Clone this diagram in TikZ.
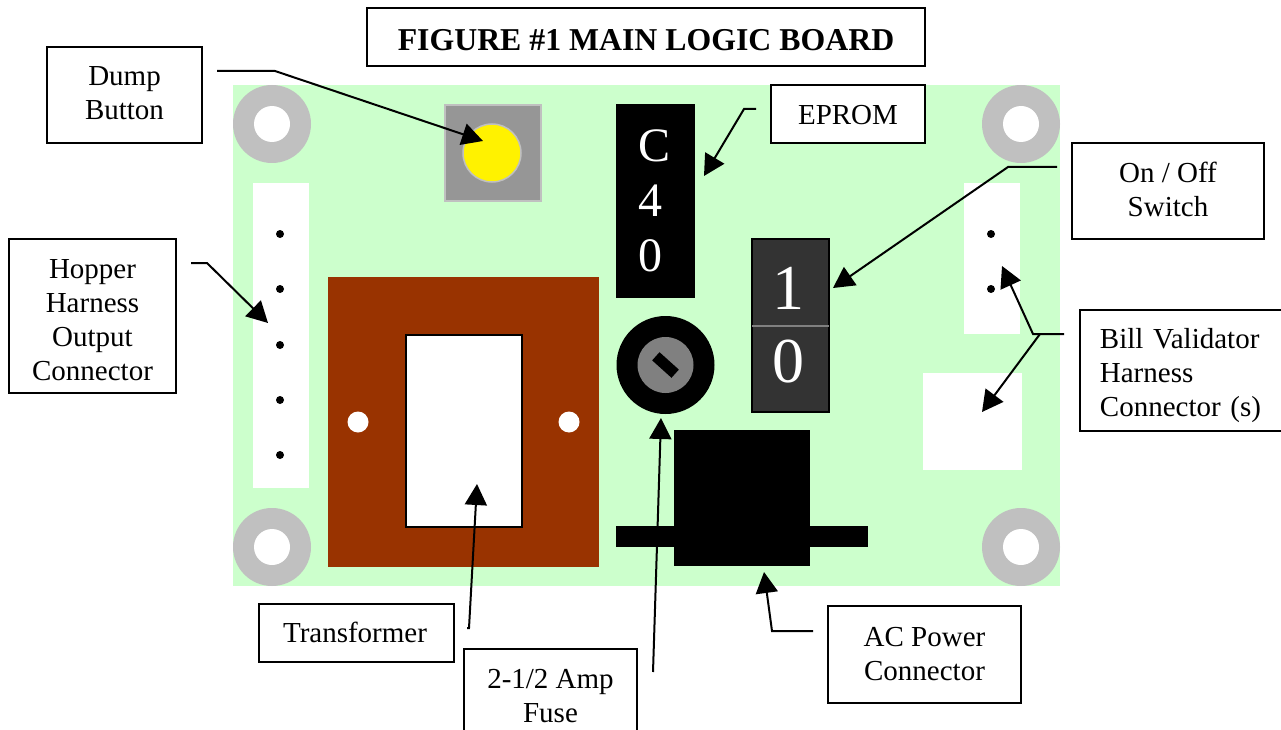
\documentclass[tikz,border=0pt]{standalone}
\usepackage{fontspec}
\setmainfont{Liberation Serif}
\usetikzlibrary{arrows.meta}
\definecolor{boardgreen}{HTML}{CCFFCC}
\definecolor{coilbrown}{HTML}{993300}
\definecolor{mountgray}{HTML}{C0C0C0}
\definecolor{dumpgray}{HTML}{969696}
\definecolor{switchgray}{HTML}{333333}
\newcommand{\dropline}[1]{\rule{0pt}{#1}}
\newcommand{\liftline}[1]{\rule[-#1]{0pt}{#1}}
\tikzset{
  labelbox/.style={draw=black,fill=white,line width=1.8pt,inner sep=0pt,align=center,font=\fontsize{29}{34}\selectfont},
  chiptext/.style={text=white,inner sep=0pt,align=center},
  leader/.style={draw=black,line width=2pt,-{Triangle[length=21pt,width=22pt]}}
}
\begin{document}
\begin{tikzpicture}[line join=miter,>=stealth,x=1pt,y=-1pt]
\useasboundingbox (0,0) rectangle (1281,730);
% board
\fill[boardgreen] (233,85) rectangle (1060,586);
\foreach \x/\y in {272/124,1021/124,272/547,1021/547}{
  \fill[mountgray] (\x,\y) circle(39);
  \fill[white] (\x,\y) circle(18);
}
% harness connectors
\fill[white] (253,183) rectangle (309,488);
\fill[white] (964,183) rectangle (1020,334);
\fill[white] (923,373) rectangle (1022,470);
\foreach \x/\y in {280/234,280/289,280/345,280/400,280/455,991/234,991/289}{\fill[black] (\x,\y) circle(4);}
% transformer
\fill[coilbrown] (328,277) rectangle (599,567);
\draw[black,fill=white,line width=1.8pt] (406,335) rectangle (522,527);
\foreach \x in {358,569}{\fill[white] (\x,422) circle(10.5);}
% dump button
\draw[mountgray,fill=dumpgray,line width=1.5pt] (445,105) rectangle (541,201);
\draw[mountgray,fill=yellow,line width=1.5pt] (492,153) circle(29);
% eprom
\fill[black] (616,104) rectangle (695,298);
\foreach \y/\l in {146/C,201/4,256/0}{\node[chiptext,anchor=west,font=\fontsize{48}{55}\selectfont] (eprom\l) at (638,\y) {\l};}
% on off switch
\draw[black,fill=switchgray,line width=1.5pt] (752,239) rectangle (829,412);
\draw[gray,line width=2pt] (752,325.5) -- (829,325.5);
\node[chiptext,font=\fontsize{64}{70}\selectfont] (switchon) at (788,288) {1};
\node[chiptext,font=\fontsize{64}{70}\selectfont] (switchoff) at (788,362) {0};
% fuse
\fill[black] (665.5,365) circle(49);
\fill[gray] (665.5,365) circle(28);
\fill[black,rotate around={-42:(665.5,365)}] (652.5,359.5) rectangle (678.5,370.5);
% ac connector
\fill[black] (674,430) rectangle (810,566);
\fill[black] (616,526) rectangle (868,547);
% labels
\node[labelbox,minimum width=558pt,minimum height=58pt,font=\fontsize{31.8}{36}\selectfont\bfseries] (title) at (646,37) {\dropline{28pt}FIGURE \#1 MAIN LOGIC BOARD};
\node[labelbox,minimum width=155pt,minimum height=96pt] (dumpbutton) at (124.5,95) {Dump\\Button\liftline{4pt}};
\node[labelbox,minimum width=154pt,minimum height=58pt] (eprom) at (848,114) {\dropline{21pt}EPROM};
\node[labelbox,minimum width=192pt,minimum height=96pt] (onoff) at (1168,191) {On / Off\\Switch\liftline{4pt}};
\node[labelbox,minimum width=206pt,minimum height=121pt,anchor=west,align=left,text width=206pt] (billvalidator) at (1079,370.5) {\dropline{30pt}\hspace*{20pt}Bill Validator\\\hspace*{20pt}Harness\\\hspace*{20pt}Connector (s)};
\node[labelbox,minimum width=167pt,minimum height=154pt] (hopper) at (92.5,316) {\dropline{27pt}Hopper\\Harness\\Output\\Connector};
\node[labelbox,minimum width=195pt,minimum height=58pt] (transformer) at (356.5,633) {\hspace*{-3pt}Transformer\liftline{2pt}};
\node[labelbox,minimum width=173pt,minimum height=100pt,anchor=north] (fuselabel) at (550.5,648) {2-1/2 Amp\\Fuse\liftline{7pt}};
\node[labelbox,minimum width=193pt,minimum height=97pt] (acpower) at (924.5,654.5) {AC Power\\Connector\liftline{2pt}};
% leader lines
\coordinate (dumpstart) at (217,71);
\coordinate (dumpbend) at (275,71);
\coordinate (dumptip) at (483,141);
\coordinate (epromstart) at (756,109);
\coordinate (eprombend) at (744,109);
\coordinate (epromtip) at (704,176);
\coordinate (switchstart) at (1057,167);
\coordinate (switchbend) at (1008,167);
\coordinate (switchtip) at (833,288);
\coordinate (billstart) at (1064,334);
\coordinate (billbend) at (1033,334);
\coordinate (billfork) at (1040,334);
\coordinate (billtipa) at (1002,266);
\coordinate (billtipb) at (982,412);
\coordinate (hopperstart) at (191,263);
\coordinate (hopperbend) at (207,263);
\coordinate (hoppertip) at (268,323);
\coordinate (coilstart) at (467,628);
\coordinate (coilbend) at (469,628);
\coordinate (coiltip) at (477,484);
\coordinate (fusestart) at (653,672);
\coordinate (fusetip) at (661,418);
\coordinate (acstart) at (813,631);
\coordinate (acbend) at (772,631);
\coordinate (actip) at (764,572);
\draw[leader] (dumpstart) -- (dumpbend) -- (dumptip);
\draw[leader] (epromstart) -- (eprombend) -- (epromtip);
\draw[leader] (switchstart) -- (switchbend) -- (switchtip);
\draw[leader] (billstart) -- (billbend) -- (billtipa);
\draw[leader] (billfork) -- (billtipb);
\draw[leader] (hopperstart) -- (hopperbend) -- (hoppertip);
\draw[leader] (coilstart) -- (coilbend) -- (coiltip);
\draw[leader] (fusestart) -- (fusetip);
\draw[leader] (acstart) -- (acbend) -- (actip);
\end{tikzpicture}
\end{document}
